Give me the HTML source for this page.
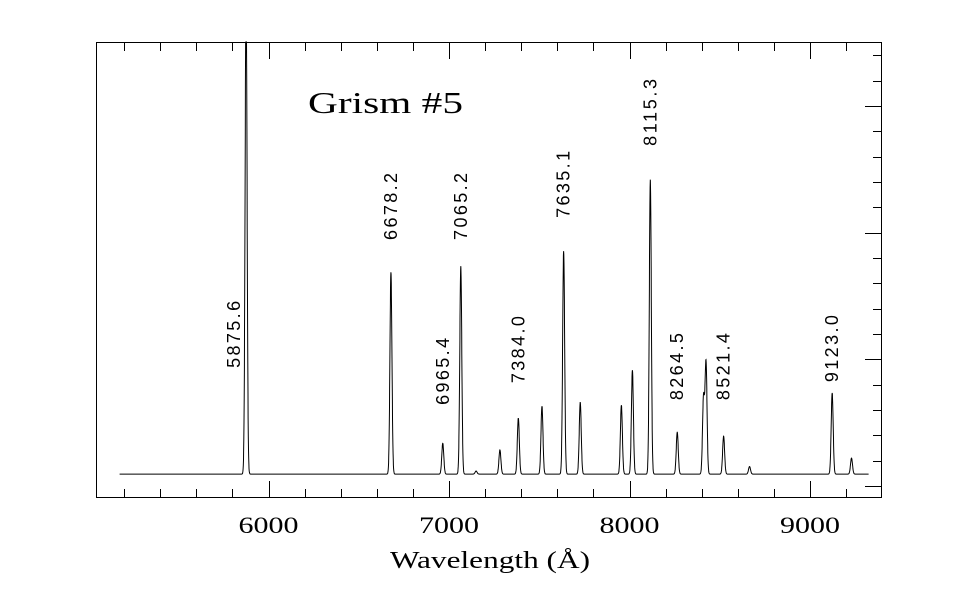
<!DOCTYPE html>
<html><head><meta charset="utf-8"><style>
html,body{margin:0;padding:0;background:#fff;}
svg{display:block;}
text{fill:#000;}
</style></head><body>
<svg id="chart" width="974" height="593" viewBox="0 0 974 593" xmlns="http://www.w3.org/2000/svg">
<rect x="96.5" y="42.5" width="785" height="455" fill="none" stroke="#000" stroke-width="1"/>
<g id="ticks"></g>
<g id="xlabels"></g>
<path id="spec" fill="none" stroke="#000" stroke-width="1"/>
<g id="linelabels"></g>
<text x="308" y="113" font-family="Liberation Serif, serif" font-size="31" textLength="155" lengthAdjust="spacingAndGlyphs">Grism #5</text>
<text x="390" y="568" font-family="Liberation Serif, serif" font-size="24" textLength="200" lengthAdjust="spacingAndGlyphs">Wavelength (Å)</text>
</svg>
<script>
const lineWave=[5875.6,6678.2,6965.4,7065.2,7150,7282,7384.0,7515,7635.1,7727,7955,8016,8115.3,8264.5,8410,8424,8521.4,8665,9123.0,9230];
const lineHeight=[19,7.97,1.22,8.21,0.12,0.95,2.21,2.68,8.8,2.84,2.72,4.1,11.64,1.66,3.0,4.4,1.5,0.3,3.2,0.63];
const baseLevel=0.47;
const labelWaves=[5810,6678.2,6965.4,7065.2,7384.0,7635.1,8115.3,8264.5,8521.4,9123.0];
const labelText=["5875.6","6678.2","6965.4","7065.2","7384.0","7635.1","8115.3","8264.5","8521.4","9123.0"];
const labelValues=[4.66,9.71,3.2,9.71,4.06,10.58,13.42,3.39,3.39,4.1];
const xTickLabels=[6000,7000,8000,9000];
const xMin=5044,xMax=9399,x0=96,x1=882;
function sx(w){return x0+(w-xMin)/(xMax-xMin)*(x1-x0);}
function sy(v){return 486-v*25.34;}
const NS="http://www.w3.org/2000/svg";
const tk=document.getElementById('ticks');
function line(a,b,c,d,name){const l=document.createElementNS(NS,'line');l.setAttribute('x1',a);l.setAttribute('y1',b);l.setAttribute('x2',c);l.setAttribute('y2',d);l.setAttribute('stroke','#000');


tk.appendChild(l);}
for(let w=5200;w<=9300;w+=200){const x=Math.round(sx(w))+0.5;const L=(w%1000===0)?17:9;line(x,498,x,498-L,'x-tick');line(x,42,x,42+L,'x-tick-top');}
for(let k=0;k<=17;k++){const y=Math.round(sy(k))+0.5;const L=(k%5===0)?17:9;line(882,y,882-L,y,'y-tick');}
const xl=document.getElementById('xlabels');
xTickLabels.forEach(w=>{const t=document.createElementNS(NS,'text');t.setAttribute('x',sx(w)-30);t.setAttribute('y',533);t.setAttribute('font-family','Liberation Serif, serif');t.setAttribute('font-size','23');t.setAttribute('textLength','60');t.setAttribute('lengthAdjust','spacingAndGlyphs');t.textContent=w;


xl.appendChild(t);});
let d='';
for(let w=5175;w<=9325;w+=1){let v=baseLevel;for(let i=0;i<lineWave.length;i++){const z=(w-lineWave[i])/5.5;v+=lineHeight[i]*Math.exp(-0.5*z*z);}
let y=sy(v);if(y<42)y=42;d+=(d?'L':'M')+sx(w).toFixed(1)+','+y.toFixed(1);}
document.getElementById('spec').setAttribute('d',d);
const ll=document.getElementById('linelabels');
labelWaves.forEach((w,i)=>{const t=document.createElementNS(NS,'text');const x=sx(w),y=sy(labelValues[i]);t.setAttribute('x',0);t.setAttribute('y',0);t.setAttribute('transform','translate('+(x+6)+','+y+') rotate(-90)');t.setAttribute('font-family','Liberation Sans, sans-serif');t.setAttribute('font-size','18');t.setAttribute('textLength','67');t.setAttribute('lengthAdjust','spacing');t.textContent=labelText[i];


ll.appendChild(t);});
</script>
</body></html>
